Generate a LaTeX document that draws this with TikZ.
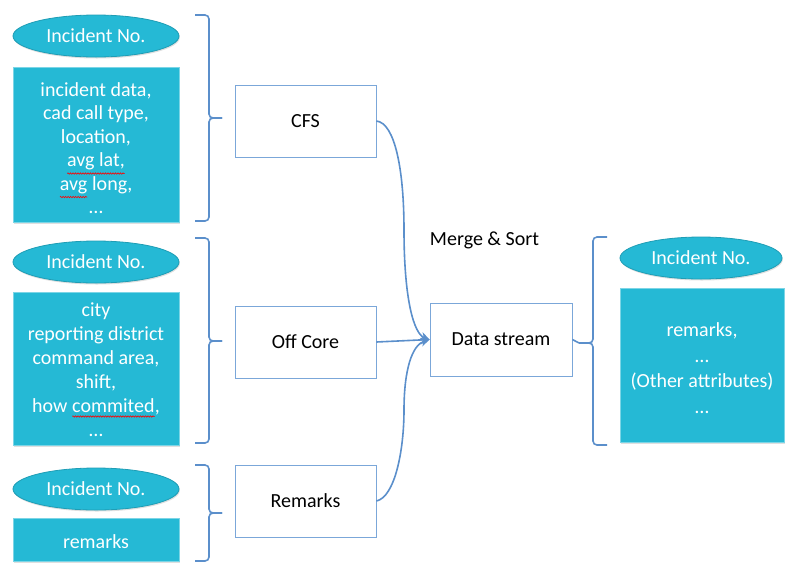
\documentclass[tikz,border=0pt]{standalone}
\usepackage{fontspec}
\setmainfont{Carlito}
\usetikzlibrary{arrows.meta,shapes.geometric,decorations.pathmorphing,shadows}
\definecolor{fillc}{HTML}{25B9D5}
\definecolor{linec}{HTML}{5B8FCB}
\definecolor{boxline}{HTML}{7BA7D9}
\newcommand{\squig}[1]{\tikz[baseline=(w.base)]{\node[shape=rectangle,inner sep=0pt,outer sep=0pt,minimum width=0pt,minimum height=0pt,draw=none,fill=none,text=white](w){#1};\draw[red,line width=0.6pt,fill=none,decorate,decoration={snake,amplitude=0.7pt,segment length=2.5pt}] ([yshift=-3.5pt]w.south west) -- ([yshift=-3.5pt]w.south east);}}
\begin{document}
\begin{tikzpicture}[x=1pt,y=-1pt,
  every node/.style={font=\fontsize{20}{23.5}\selectfont},
  shad/.style={drop shadow={opacity=0.25, shadow xshift=0.8pt, shadow yshift=-1.5pt}},
  idell/.style={ellipse, fill=fillc, draw=fillc!85!black, line width=0.8pt, minimum width=166pt, minimum height=42pt, text=white, inner sep=0pt, shad},
  attrbox/.style={rectangle, fill=fillc, draw=fillc!60!white, line width=0.6pt, inner sep=0pt, shad},
  attrtext/.style={text=white, align=center, inner sep=0pt},
  procbox/.style={rectangle, draw=boxline, fill=white, line width=0.8pt, minimum width=141pt, minimum height=72pt, inner sep=0pt},
  brace/.style={draw=linec, line width=1.6pt, rounded corners=4pt},
  conn/.style={draw=linec, line width=1.6pt, -{Stealth[length=9pt,width=9pt]}}]
\useasboundingbox (0,0) rectangle (792,582);

% left group 1
\node[idell] (id1) at (96,36) {Incident No.};
\node[attrbox, minimum width=166pt, minimum height=155pt] (a1) at (96,144.5) {};
\node[attrtext, font=\fontsize{20}{23.5}\selectfont] (t1) at (96,148) {incident data,\\cad call type,\\location,\\\squig{avg lat,}\\\squig{avg} long,\\\ldots};
\draw[brace] (195,15) -- (209,15) -- (209,118) -- (222,118);
\draw[brace] (222,118) -- (209,118) -- (209,221) -- (195,221);

% left group 2
\node[idell] (id2) at (96,262) {Incident No.};
\node[attrbox, minimum width=166pt, minimum height=153pt] (a2) at (96,368.5) {};
\node[attrtext, font=\fontsize{20}{24}\selectfont] (t2) at (96,370) {city\\reporting district\\command area,\\shift,\\how \squig{commited},\\\ldots};
\draw[brace] (195,238) -- (209,238) -- (209,341) -- (222,341);
\draw[brace] (222,341) -- (209,341) -- (209,443) -- (195,443);

% left group 3
\node[idell] (id3) at (96,489) {Incident No.};
\node[attrbox, minimum width=166pt, minimum height=43pt] (a3) at (96,539.5) {};
\node[attrtext] (t3) at (96,542) {remarks};
\draw[brace] (195,465) -- (209,465) -- (209,513) -- (222,513);
\draw[brace] (222,513) -- (209,513) -- (209,561) -- (195,561);

% process boxes
\node[procbox] (cfs) at (305.5,121) {CFS};
\node[procbox] (off) at (305.5,342) {Off Core};
\node[procbox] (rem) at (305.5,501) {Remarks};
\node[procbox, minimum width=142pt, minimum height=73pt] (ds) at (501,339.5) {Data stream};
\node (ms) at (484.5,240) {Merge \& Sort};

% connectors
\draw[conn] (cfs.east) .. controls (395,123) and (404,170) .. (404,230) .. controls (404,300) and (414,334) .. (ds.west);
\draw[conn] (rem.east) .. controls (395,497) and (404,450) .. (404,410) .. controls (404,370) and (412,345) .. (ds.west);
\draw[conn] (off.east) -- (ds.west);

% right group
\coordinate (rt) at (579,343);
\draw[brace] (ds.east) -- (rt);
\draw[brace] (607,237) -- (593,237) -- (593,343) -- (rt);
\draw[brace] (rt) -- (593,343) -- (593,445) -- (607,445);
\node[idell, minimum width=162pt] (id4) at (701,258) {Incident No.};
\node[attrbox, minimum width=164pt, minimum height=154pt] (a4) at (702,365) {};
\node[attrtext, font=\fontsize{20}{25.5}\selectfont] (t4) at (702,368) {remarks,\\\ldots\\(Other attributes)\\\ldots};
\end{tikzpicture}
\end{document}
